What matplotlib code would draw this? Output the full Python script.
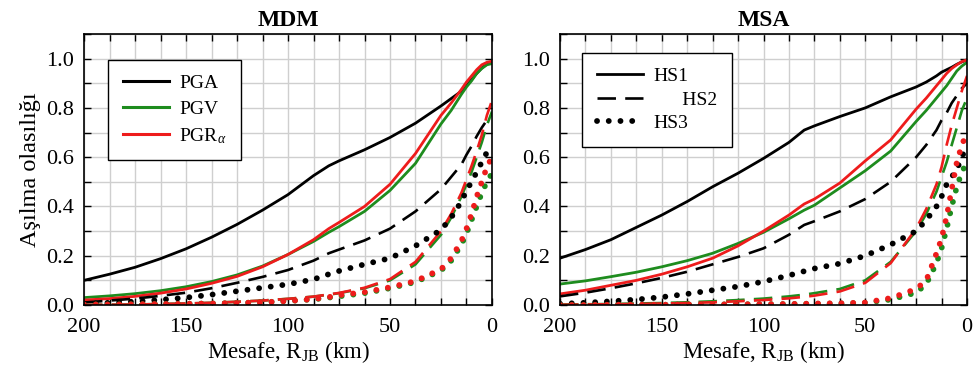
import matplotlib
matplotlib.use("Agg")
import matplotlib.pyplot as plt
from matplotlib.lines import Line2D
from matplotlib.ticker import MultipleLocator, FormatStrFormatter

plt.rcParams['font.family'] = ['Liberation Serif', 'DejaVu Serif']
plt.rcParams['mathtext.fontset'] = 'custom'
plt.rcParams['mathtext.rm'] = 'Liberation Serif'
plt.rcParams['mathtext.it'] = 'Liberation Serif:italic'

BLACK = "black"
GREEN = "#1e8c1e"
RED = "#ee1c1c"

# Mesafe (km)
distance = [200, 187.5, 175, 162.5, 150, 137.5, 125, 112.5, 100, 87.5, 80, 75,
            62.5, 50, 37.5, 25, 20, 15, 12.5, 10, 7.5, 5, 2.5, 0]

# MDM - HS1 (düz), HS2 (kesikli), HS3 (noktalı)
mdm_pga_hs1 = [0.100, 0.125, 0.153, 0.188, 0.228, 0.275, 0.327, 0.385, 0.448, 0.525, 0.565, 0.585,
               0.630, 0.680, 0.738, 0.808, 0.838, 0.868, 0.890, 0.915, 0.940, 0.962, 0.978, 0.985]
mdm_pgv_hs1 = [0.030, 0.037, 0.046, 0.058, 0.074, 0.095, 0.122, 0.158, 0.205, 0.258, 0.295, 0.318,
               0.380, 0.465, 0.575, 0.735, 0.790, 0.855, 0.885, 0.910, 0.940, 0.960, 0.975, 0.980]
mdm_pgr_hs1 = [0.020, 0.026, 0.035, 0.048, 0.065, 0.088, 0.116, 0.155, 0.205, 0.265, 0.310, 0.335,
               0.400, 0.490, 0.615, 0.770, 0.820, 0.875, 0.905, 0.930, 0.955, 0.975, 0.985, 0.990]
mdm_pga_hs2 = [0.010, 0.018, 0.026, 0.037, 0.050, 0.068, 0.090, 0.114, 0.142, 0.180, 0.210, 0.225,
               0.262, 0.310, 0.380, 0.470, 0.520, 0.570, 0.610, 0.645, 0.685, 0.720, 0.750, 0.765]
mdm_pgv_hs2 = [0.000, 0.001, 0.002, 0.004, 0.006, 0.009, 0.013, 0.018, 0.025, 0.034, 0.042, 0.048,
               0.068, 0.100, 0.165, 0.285, 0.355, 0.440, 0.490, 0.540, 0.600, 0.660, 0.730, 0.785]
mdm_pgr_hs2 = [0.000, 0.001, 0.002, 0.004, 0.006, 0.009, 0.013, 0.018, 0.025, 0.034, 0.043, 0.049,
               0.070, 0.105, 0.175, 0.300, 0.370, 0.455, 0.510, 0.565, 0.625, 0.690, 0.770, 0.830]
mdm_pga_hs3 = [0.005, 0.009, 0.014, 0.021, 0.030, 0.042, 0.056, 0.070, 0.084, 0.104, 0.125, 0.138,
               0.165, 0.190, 0.240, 0.305, 0.355, 0.420, 0.465, 0.500, 0.540, 0.580, 0.620, 0.645]
mdm_pgv_hs3 = [0.002, 0.002, 0.003, 0.004, 0.005, 0.006, 0.008, 0.011, 0.016, 0.023, 0.030, 0.035,
               0.048, 0.068, 0.093, 0.140, 0.180, 0.245, 0.290, 0.345, 0.400, 0.455, 0.500, 0.535]
mdm_pgr_hs3 = [0.002, 0.002, 0.003, 0.004, 0.005, 0.006, 0.008, 0.011, 0.016, 0.024, 0.032, 0.040,
               0.052, 0.072, 0.097, 0.145, 0.190, 0.260, 0.310, 0.370, 0.440, 0.500, 0.560, 0.600]

# MSA
msa_pga_hs1 = [0.190, 0.225, 0.265, 0.315, 0.365, 0.420, 0.480, 0.535, 0.595, 0.660, 0.710, 0.727,
               0.765, 0.800, 0.845, 0.885, 0.905, 0.930, 0.945, 0.955, 0.965, 0.977, 0.987, 0.995]
msa_pgv_hs1 = [0.085, 0.098, 0.115, 0.133, 0.155, 0.180, 0.210, 0.250, 0.295, 0.350, 0.385, 0.405,
               0.475, 0.545, 0.625, 0.745, 0.790, 0.840, 0.865, 0.890, 0.920, 0.950, 0.970, 0.985]
msa_pgr_hs1 = [0.045, 0.060, 0.080, 0.100, 0.125, 0.155, 0.190, 0.240, 0.300, 0.365, 0.410, 0.430,
               0.495, 0.585, 0.670, 0.795, 0.840, 0.890, 0.915, 0.940, 0.960, 0.975, 0.988, 0.995]
msa_pga_hs2 = [0.035, 0.050, 0.068, 0.088, 0.110, 0.135, 0.165, 0.195, 0.230, 0.285, 0.325, 0.340,
               0.380, 0.430, 0.500, 0.600, 0.650, 0.710, 0.750, 0.780, 0.820, 0.850, 0.880, 0.900]
msa_pgv_hs2 = [0.002, 0.003, 0.004, 0.006, 0.008, 0.011, 0.015, 0.020, 0.026, 0.035, 0.042, 0.048,
               0.065, 0.100, 0.175, 0.300, 0.370, 0.460, 0.520, 0.580, 0.650, 0.720, 0.790, 0.840]
msa_pgr_hs2 = [0.001, 0.002, 0.003, 0.004, 0.006, 0.008, 0.011, 0.015, 0.020, 0.027, 0.033, 0.038,
               0.055, 0.090, 0.170, 0.310, 0.390, 0.490, 0.560, 0.650, 0.730, 0.800, 0.870, 0.930]
msa_pga_hs3 = [0.005, 0.009, 0.015, 0.022, 0.032, 0.045, 0.060, 0.075, 0.095, 0.120, 0.137, 0.148,
               0.168, 0.200, 0.245, 0.300, 0.345, 0.400, 0.440, 0.490, 0.520, 0.550, 0.600, 0.650]
msa_pgv_hs3 = [0.000, 0.000, 0.001, 0.001, 0.001, 0.002, 0.002, 0.003, 0.003, 0.004, 0.005, 0.005,
               0.006, 0.009, 0.022, 0.050, 0.085, 0.170, 0.230, 0.310, 0.400, 0.480, 0.540, 0.580]
msa_pgr_hs3 = [0.000, 0.000, 0.001, 0.001, 0.001, 0.002, 0.002, 0.003, 0.003, 0.004, 0.005, 0.006,
               0.007, 0.010, 0.028, 0.065, 0.100, 0.210, 0.270, 0.360, 0.470, 0.580, 0.650, 0.700]

SOLID = dict(linestyle="-", linewidth=2.0)
DASHED = dict(linestyle=(0, (7, 3.5)), linewidth=1.9)
DOTTED = dict(linestyle=(0, (0.01, 2.0)), linewidth=4.2, dash_capstyle="round")


# Bir paneli çizer
def draw_panel(ax, title, curves):
    for y, color, style in curves:
        ax.plot(distance, y, color=color, **style)

    ax.set_xlim(200, 0)
    ax.set_ylim(0, 1.1)
    ax.xaxis.set_major_locator(MultipleLocator(50))
    ax.xaxis.set_minor_locator(MultipleLocator(12.5))
    ax.yaxis.set_major_locator(MultipleLocator(0.2))
    ax.yaxis.set_minor_locator(MultipleLocator(0.1))
    ax.yaxis.set_major_formatter(FormatStrFormatter("%.1f"))

    # Izgara
    ax.grid(which="both", color="#cfcfcf", linewidth=1.0)
    ax.set_axisbelow(True)

    ax.tick_params(which="both", direction="in", top=True, right=True, length=5, width=1.0,
                   labelsize=16)
    ax.tick_params(axis="x", pad=9)
    ax.tick_params(axis="y", pad=7)
    for s in ax.spines.values():
        s.set_linewidth(1.2)

    ax.set_title(title, fontsize=17, fontweight="bold", pad=6)
    ax.set_xlabel(r"Mesafe, R$_{\rm JB}$ (km)", fontsize=16.5, labelpad=2)


def add_legend(ax, handles, labels, anchor, spacing):
    leg = ax.legend(handles, labels, loc="upper left", bbox_to_anchor=anchor,
                    borderaxespad=0, fontsize=14, handlelength=2.4, handletextpad=0.5,
                    labelspacing=spacing, borderpad=0.75, fancybox=False,
                    edgecolor="black", framealpha=1)
    leg.get_frame().set_linewidth(1.0)


def main():
    fig = plt.figure(figsize=(9.75, 3.8), dpi=100)
    ax1 = fig.add_axes([84 / 975, 75 / 380, 408 / 975, 271 / 380])
    ax2 = fig.add_axes([560 / 975, 75 / 380, 407 / 975, 271 / 380])

    draw_panel(ax1, "MDM", [
        (mdm_pga_hs1, BLACK, SOLID), (mdm_pgv_hs1, GREEN, SOLID), (mdm_pgr_hs1, RED, SOLID),
        (mdm_pga_hs2, BLACK, DASHED), (mdm_pgv_hs2, GREEN, DASHED), (mdm_pgr_hs2, RED, DASHED),
        (mdm_pga_hs3, BLACK, DOTTED), (mdm_pgv_hs3, GREEN, DOTTED), (mdm_pgr_hs3, RED, DOTTED),
    ])
    draw_panel(ax2, "MSA", [
        (msa_pga_hs1, BLACK, SOLID), (msa_pgv_hs1, GREEN, SOLID), (msa_pgr_hs1, RED, SOLID),
        (msa_pga_hs2, BLACK, DASHED), (msa_pgv_hs2, GREEN, DASHED), (msa_pgr_hs2, RED, DASHED),
        (msa_pga_hs3, BLACK, DOTTED), (msa_pgv_hs3, GREEN, DOTTED), (msa_pgr_hs3, RED, DOTTED),
    ])
    ax1.set_ylabel("Aşılma olasılığı", fontsize=17.5, labelpad=4)

    # Lejantlar
    h1 = [Line2D([], [], color=c, linewidth=2.2) for c in (BLACK, GREEN, RED)]
    add_legend(ax1, h1, ["PGA", "PGV", r"PGR$_{\alpha}$"], (0.059, 0.904), 0.42)

    h2 = [Line2D([], [], color=BLACK, **SOLID), Line2D([], [], color=BLACK, **DASHED),
          Line2D([], [], color=BLACK, **DOTTED)]
    add_legend(ax2, h2, ["HS1", "      HS2", "HS3"], (0.054, 0.93), 0.3)

    fig.savefig("out.png", dpi=100)


if __name__ == '__main__':
    main()
